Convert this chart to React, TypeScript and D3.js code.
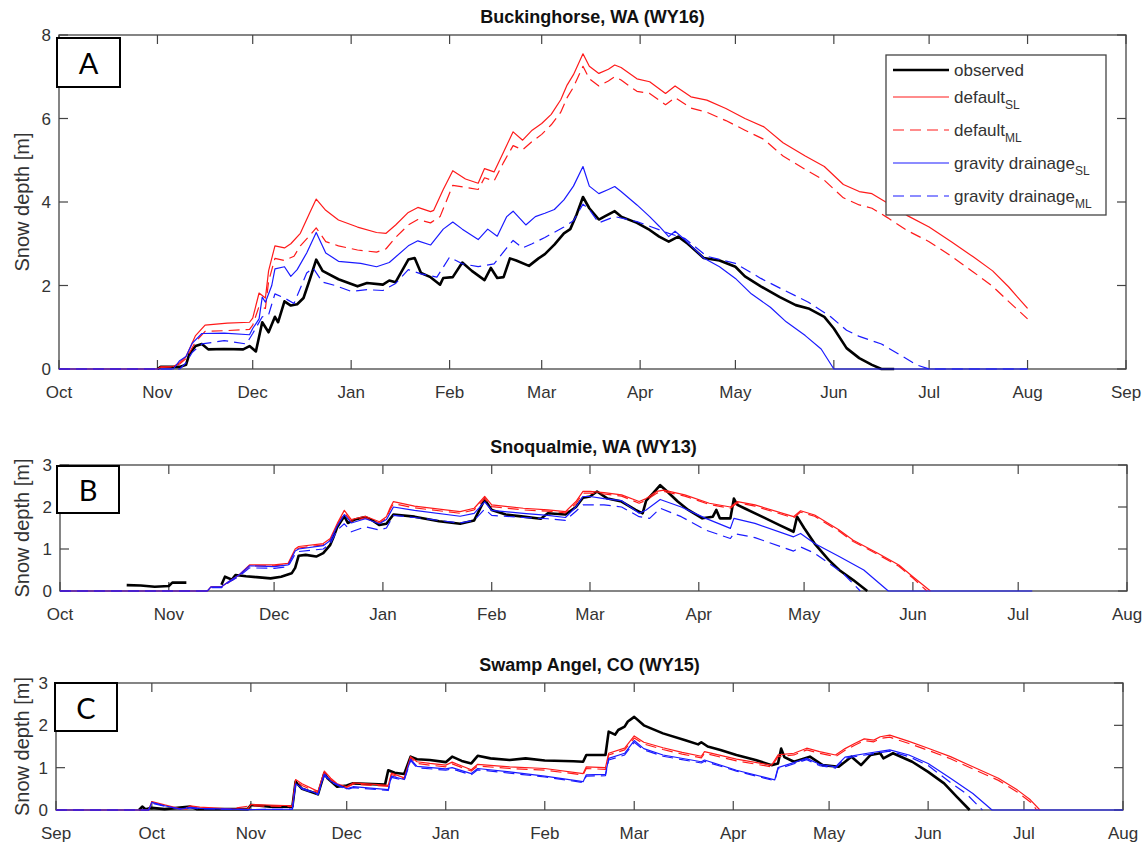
import React from 'react';
import * as d3 from 'd3';

type Pt = [string, number | null];

// ---- Panel A: Buckinghorse, WA (WY16) ----
const aObserved: Pt[] = [
  ['2015-11-01', 0], ['2015-11-02', 0.05], ['2015-11-08', 0.05], ['2015-11-10', 0.1], ['2015-11-11', 0.35],
  ['2015-11-13', 0.55], ['2015-11-15', 0.6], ['2015-11-17', 0.47], ['2015-11-22', 0.48], ['2015-11-28', 0.47],
  ['2015-11-30', 0.55], ['2015-12-02', 0.42], ['2015-12-04', 1.12], ['2015-12-06', 0.88], ['2015-12-08', 1.25],
  ['2015-12-09', 1.12], ['2015-12-11', 1.62], ['2015-12-13', 1.52], ['2015-12-15', 1.55], ['2015-12-17', 1.7],
  ['2015-12-19', 2.15], ['2015-12-21', 2.62], ['2015-12-23', 2.35], ['2015-12-28', 2.15], ['2016-01-03', 1.98],
  ['2016-01-06', 2.06], ['2016-01-11', 2.02], ['2016-01-13', 2.12], ['2016-01-15', 2.08], ['2016-01-17', 2.35],
  ['2016-01-19', 2.62], ['2016-01-21', 2.66], ['2016-01-23', 2.3], ['2016-01-26', 2.2], ['2016-01-29', 2.02],
  ['2016-01-30', 2.18], ['2016-02-02', 2.2], ['2016-02-05', 2.55], ['2016-02-08', 2.35], ['2016-02-12', 2.13],
  ['2016-02-14', 2.42], ['2016-02-16', 2.18], ['2016-02-18', 2.2], ['2016-02-20', 2.65], ['2016-02-22', 2.6],
  ['2016-02-26', 2.47], ['2016-02-29', 2.65], ['2016-03-02', 2.75], ['2016-03-05', 2.98], ['2016-03-08', 3.25],
  ['2016-03-10', 3.35], ['2016-03-12', 3.7], ['2016-03-14', 4.12], ['2016-03-16', 3.85], ['2016-03-19', 3.58],
  ['2016-03-21', 3.66], ['2016-03-24', 3.78], ['2016-03-26', 3.65], ['2016-03-31', 3.5], ['2016-04-04', 3.33],
  ['2016-04-07', 3.17], ['2016-04-10', 3.05], ['2016-04-13', 3.17], ['2016-04-16', 3.0], ['2016-04-21', 2.66],
  ['2016-04-26', 2.6], ['2016-05-01', 2.45], ['2016-05-04', 2.22], ['2016-05-09', 1.98], ['2016-05-15', 1.72],
  ['2016-05-20', 1.53], ['2016-05-24', 1.45], ['2016-05-29', 1.25], ['2016-06-01', 0.97], ['2016-06-05', 0.5],
  ['2016-06-09', 0.26], ['2016-06-13', 0.1], ['2016-06-16', 0], ['2016-06-20', 0],
];
const aDefaultSL: Pt[] = [
  ['2015-10-01', 0], ['2015-11-01', 0], ['2015-11-02', 0.05], ['2015-11-06', 0.06], ['2015-11-08', 0.15],
  ['2015-11-10', 0.3], ['2015-11-13', 0.8], ['2015-11-16', 1.05], ['2015-11-23', 1.1], ['2015-11-30', 1.12],
  ['2015-12-01', 1.22], ['2015-12-03', 1.82], ['2015-12-05', 1.7], ['2015-12-06', 2.35], ['2015-12-08', 2.95],
  ['2015-12-11', 2.9], ['2015-12-13', 3.0], ['2015-12-16', 3.25], ['2015-12-19', 3.75], ['2015-12-21', 4.07],
  ['2015-12-24', 3.8], ['2015-12-28', 3.57], ['2016-01-03', 3.4], ['2016-01-09', 3.27], ['2016-01-12', 3.25],
  ['2016-01-15', 3.45], ['2016-01-19', 3.75], ['2016-01-22', 3.87], ['2016-01-26', 3.77], ['2016-01-27', 3.8],
  ['2016-01-30', 4.3], ['2016-02-02', 4.75], ['2016-02-06', 4.55], ['2016-02-10', 4.45], ['2016-02-12', 4.8],
  ['2016-02-15', 4.72], ['2016-02-18', 5.2], ['2016-02-21', 5.68], ['2016-02-24', 5.48], ['2016-02-27', 5.72],
  ['2016-03-01', 5.88], ['2016-03-04', 6.1], ['2016-03-07', 6.45], ['2016-03-09', 6.8], ['2016-03-11', 7.05],
  ['2016-03-14', 7.55], ['2016-03-16', 7.25], ['2016-03-19', 7.08], ['2016-03-22', 7.18], ['2016-03-24', 7.28],
  ['2016-03-26', 7.22], ['2016-03-31', 6.95], ['2016-04-04', 6.88], ['2016-04-09', 6.6], ['2016-04-12', 6.78],
  ['2016-04-17', 6.52], ['2016-04-22', 6.44], ['2016-04-28', 6.24], ['2016-05-04', 6.0], ['2016-05-10', 5.8],
  ['2016-05-16', 5.42], ['2016-05-23', 5.1], ['2016-05-29', 4.85], ['2016-06-04', 4.42], ['2016-06-09', 4.25],
  ['2016-06-13', 4.2], ['2016-06-18', 3.97], ['2016-06-24', 3.68], ['2016-07-01', 3.4], ['2016-07-08', 3.05],
  ['2016-07-15', 2.68], ['2016-07-21', 2.35], ['2016-07-26', 1.97], ['2016-08-01', 1.45],
];
const aDefaultML: Pt[] = [
  ['2015-10-01', 0], ['2015-11-01', 0], ['2015-11-02', 0.04], ['2015-11-06', 0.05], ['2015-11-08', 0.12],
  ['2015-11-10', 0.25], ['2015-11-13', 0.65], ['2015-11-16', 0.9], ['2015-11-23', 0.92], ['2015-11-30', 0.95],
  ['2015-12-01', 1.05], ['2015-12-03', 1.5], ['2015-12-05', 1.45], ['2015-12-06', 2.1], ['2015-12-08', 2.65],
  ['2015-12-11', 2.6], ['2015-12-14', 2.7], ['2015-12-16', 2.95], ['2015-12-19', 3.2], ['2015-12-21', 3.38],
  ['2015-12-24', 3.05], ['2015-12-28', 2.95], ['2016-01-03', 2.85], ['2016-01-09', 2.8], ['2016-01-12', 2.88],
  ['2016-01-15', 3.15], ['2016-01-19', 3.45], ['2016-01-22', 3.58], ['2016-01-26', 3.5], ['2016-01-29', 3.65],
  ['2016-02-02', 4.4], ['2016-02-06', 4.35], ['2016-02-10', 4.3], ['2016-02-12', 4.58], ['2016-02-15', 4.5],
  ['2016-02-18', 4.95], ['2016-02-21', 5.35], ['2016-02-24', 5.25], ['2016-02-27', 5.45], ['2016-03-01', 5.62],
  ['2016-03-04', 5.85], ['2016-03-07', 6.15], ['2016-03-09', 6.5], ['2016-03-11', 6.75], ['2016-03-14', 7.25],
  ['2016-03-16', 6.95], ['2016-03-19', 6.78], ['2016-03-22', 6.9], ['2016-03-24', 7.0], ['2016-03-26', 6.92],
  ['2016-03-31', 6.65], ['2016-04-04', 6.6], ['2016-04-09', 6.33], ['2016-04-12', 6.5], ['2016-04-17', 6.25],
  ['2016-04-22', 6.15], ['2016-04-28', 5.95], ['2016-05-04', 5.72], ['2016-05-10', 5.5], ['2016-05-16', 5.1],
  ['2016-05-23', 4.78], ['2016-05-29', 4.52], ['2016-06-04', 4.1], ['2016-06-09', 3.93], ['2016-06-13', 3.85],
  ['2016-06-18', 3.62], ['2016-06-24', 3.32], ['2016-07-01', 3.05], ['2016-07-08', 2.7], ['2016-07-15', 2.32],
  ['2016-07-21', 1.98], ['2016-07-26', 1.62], ['2016-08-01', 1.2],
];
const aGravitySL: Pt[] = [
  ['2015-10-01', 0], ['2015-11-06', 0], ['2015-11-08', 0.2], ['2015-11-10', 0.3], ['2015-11-12', 0.62],
  ['2015-11-15', 0.85], ['2015-11-22', 0.86], ['2015-11-30', 0.82], ['2015-12-01', 0.97], ['2015-12-03', 1.2],
  ['2015-12-04', 1.72], ['2015-12-05', 1.6], ['2015-12-07', 2.0], ['2015-12-08', 2.4], ['2015-12-11', 2.45],
  ['2015-12-13', 2.22], ['2015-12-15', 2.38], ['2015-12-18', 2.78], ['2015-12-21', 3.27], ['2015-12-24', 2.78],
  ['2015-12-28', 2.58], ['2016-01-04', 2.53], ['2016-01-09', 2.45], ['2016-01-13', 2.55], ['2016-01-19', 2.95],
  ['2016-01-22', 3.07], ['2016-01-26', 2.97], ['2016-01-30', 3.35], ['2016-02-02', 3.52], ['2016-02-05', 3.35],
  ['2016-02-10', 3.1], ['2016-02-13', 3.35], ['2016-02-16', 3.18], ['2016-02-19', 3.65], ['2016-02-21', 3.78],
  ['2016-02-25', 3.45], ['2016-02-28', 3.65], ['2016-03-02', 3.73], ['2016-03-05', 3.82], ['2016-03-08', 4.05],
  ['2016-03-11', 4.38], ['2016-03-14', 4.85], ['2016-03-16', 4.38], ['2016-03-19', 4.2], ['2016-03-22', 4.3],
  ['2016-03-24', 4.37], ['2016-03-26', 4.25], ['2016-03-31', 3.93], ['2016-04-04', 3.65], ['2016-04-07', 3.42],
  ['2016-04-10', 3.17], ['2016-04-12', 3.3], ['2016-04-15', 3.1], ['2016-04-21', 2.66], ['2016-04-26', 2.45],
  ['2016-05-01', 2.17], ['2016-05-06', 1.8], ['2016-05-12', 1.48], ['2016-05-17', 1.13], ['2016-05-23', 0.8],
  ['2016-05-28', 0.48], ['2016-06-01', 0], ['2016-08-01', 0],
];
const aGravityML: Pt[] = [
  ['2015-10-01', 0], ['2015-11-08', 0], ['2015-11-10', 0.15], ['2015-11-12', 0.4], ['2015-11-15', 0.6],
  ['2015-11-22', 0.68], ['2015-11-29', 0.6], ['2015-12-01', 0.85], ['2015-12-04', 1.25], ['2015-12-06', 1.3],
  ['2015-12-08', 1.8], ['2015-12-11', 1.7], ['2015-12-14', 1.57], ['2015-12-18', 2.3], ['2015-12-20', 2.42],
  ['2015-12-23', 2.08], ['2015-12-27', 2.0], ['2016-01-01', 1.86], ['2016-01-06', 1.9], ['2016-01-11', 1.88],
  ['2016-01-15', 2.05], ['2016-01-19', 2.38], ['2016-01-23', 2.28], ['2016-01-28', 2.2], ['2016-02-01', 2.68],
  ['2016-02-05', 2.52], ['2016-02-10', 2.45], ['2016-02-15', 2.52], ['2016-02-19', 2.9], ['2016-02-21', 3.08],
  ['2016-02-24', 2.9], ['2016-02-27', 3.0], ['2016-03-02', 3.15], ['2016-03-08', 3.4], ['2016-03-11', 3.55],
  ['2016-03-14', 3.95], ['2016-03-16', 3.82], ['2016-03-19', 3.5], ['2016-03-24', 3.65], ['2016-03-31', 3.53],
  ['2016-04-04', 3.42], ['2016-04-10', 3.25], ['2016-04-15', 3.13], ['2016-04-22', 2.7], ['2016-05-01', 2.53],
  ['2016-05-09', 2.17], ['2016-05-16', 1.9], ['2016-05-24', 1.6], ['2016-05-31', 1.25], ['2016-06-05', 0.93],
  ['2016-06-09', 0.78], ['2016-06-16', 0.6], ['2016-06-22', 0.33], ['2016-06-27', 0.1], ['2016-07-01', 0],
  ['2016-08-01', 0],
];

// ---- Panel B: Snoqualmie, WA (WY13) ----
const bObserved: Pt[] = [
  ['2012-10-20', 0.14], ['2012-10-24', 0.13], ['2012-10-28', 0.1], ['2012-11-01', 0.12], ['2012-11-02', 0.2],
  ['2012-11-06', 0.2], ['2012-11-07', null], ['2012-11-16', 0.15], ['2012-11-17', 0.34], ['2012-11-19', 0.27],
  ['2012-11-20', 0.38], ['2012-11-23', 0.35], ['2012-11-26', 0.33], ['2012-11-30', 0.3], ['2012-12-03', 0.34],
  ['2012-12-06', 0.42], ['2012-12-07', 0.55], ['2012-12-08', 0.84], ['2012-12-10', 0.86], ['2012-12-13', 0.82],
  ['2012-12-15', 0.9], ['2012-12-17', 1.1], ['2012-12-18', 1.3], ['2012-12-19', 1.52], ['2012-12-21', 1.78],
  ['2012-12-22', 1.62], ['2012-12-24', 1.7], ['2012-12-27', 1.76], ['2012-12-29', 1.68], ['2012-12-31', 1.57],
  ['2013-01-02', 1.6], ['2013-01-04', 1.82], ['2013-01-10', 1.77], ['2013-01-17', 1.66], ['2013-01-23', 1.6],
  ['2013-01-27', 1.68], ['2013-01-30', 2.18], ['2013-02-01', 1.93], ['2013-02-05', 1.82], ['2013-02-10', 1.77],
  ['2013-02-15', 1.72], ['2013-02-17', 1.85], ['2013-02-22', 1.82], ['2013-02-25', 2.0], ['2013-02-27', 2.22],
  ['2013-03-01', 2.25], ['2013-03-03', 2.37], ['2013-03-06', 2.2], ['2013-03-10', 2.13], ['2013-03-14', 1.93],
  ['2013-03-16', 1.85], ['2013-03-17', 2.15], ['2013-03-19', 2.33], ['2013-03-21', 2.52], ['2013-03-23', 2.37],
  ['2013-03-26', 2.13], ['2013-03-29', 1.93], ['2013-04-02', 1.73], ['2013-04-05', 1.77], ['2013-04-06', 1.93],
  ['2013-04-07', 1.73], ['2013-04-10', 1.73], ['2013-04-11', 2.2], ['2013-04-12', 2.05], ['2013-04-14', 1.97],
  ['2013-04-19', 1.77], ['2013-04-24', 1.57], ['2013-04-28', 1.41], ['2013-04-29', 1.77], ['2013-05-01', 1.5],
  ['2013-05-04', 1.13], ['2013-05-08', 0.74], ['2013-05-11', 0.5], ['2013-05-15', 0.26], ['2013-05-19', 0],
];
const bDefaultSL: Pt[] = [
  ['2012-10-01', 0], ['2012-11-12', 0], ['2012-11-13', 0.1], ['2012-11-16', 0.1], ['2012-11-18', 0.22],
  ['2012-11-21', 0.38], ['2012-11-24', 0.62], ['2012-12-01', 0.62], ['2012-12-05', 0.66], ['2012-12-07', 1.0],
  ['2012-12-08', 1.06], ['2012-12-15', 1.13], ['2012-12-17', 1.25], ['2012-12-19', 1.61], ['2012-12-21', 1.92],
  ['2012-12-23', 1.7], ['2012-12-27', 1.78], ['2012-12-31', 1.65], ['2013-01-02', 1.77], ['2013-01-03', 1.97],
  ['2013-01-04', 2.13], ['2013-01-10', 2.02], ['2013-01-23', 1.89], ['2013-01-27', 1.97], ['2013-01-30', 2.25],
  ['2013-02-01', 2.05], ['2013-02-10', 1.97], ['2013-02-17', 1.93], ['2013-02-22', 1.89], ['2013-02-25', 2.13],
  ['2013-02-27', 2.37], ['2013-03-01', 2.37], ['2013-03-05', 2.34], ['2013-03-10', 2.29], ['2013-03-15', 2.13],
  ['2013-03-17', 2.2], ['2013-03-20', 2.37], ['2013-03-22', 2.4], ['2013-03-28', 2.29], ['2013-04-04', 2.09],
  ['2013-04-10', 2.0], ['2013-04-12', 2.13], ['2013-04-17', 2.05], ['2013-04-28', 1.77], ['2013-04-30', 1.91],
  ['2013-05-04', 1.81], ['2013-05-11', 1.45], ['2013-05-15', 1.21], ['2013-05-22', 0.9], ['2013-05-28', 0.62],
  ['2013-06-01', 0.34], ['2013-06-06', 0],
];
const bDefaultML: Pt[] = [
  ['2012-10-01', 0], ['2012-11-12', 0], ['2012-11-13', 0.09], ['2012-11-16', 0.09], ['2012-11-18', 0.2],
  ['2012-11-21', 0.36], ['2012-11-24', 0.6], ['2012-12-01', 0.6], ['2012-12-05', 0.63], ['2012-12-07', 0.96],
  ['2012-12-08', 1.02], ['2012-12-15', 1.1], ['2012-12-17', 1.22], ['2012-12-19', 1.57], ['2012-12-21', 1.86],
  ['2012-12-23', 1.66], ['2012-12-27', 1.74], ['2012-12-31', 1.62], ['2013-01-02', 1.73], ['2013-01-03', 1.93],
  ['2013-01-04', 2.08], ['2013-01-10', 1.98], ['2013-01-23', 1.85], ['2013-01-27', 1.93], ['2013-01-30', 2.2],
  ['2013-02-01', 2.01], ['2013-02-10', 1.93], ['2013-02-17', 1.9], ['2013-02-22', 1.86], ['2013-02-25', 2.08],
  ['2013-02-27', 2.33], ['2013-03-01', 2.33], ['2013-03-05', 2.31], ['2013-03-10', 2.26], ['2013-03-15', 2.09],
  ['2013-03-17', 2.16], ['2013-03-20', 2.33], ['2013-03-22', 2.37], ['2013-03-28', 2.26], ['2013-04-04', 2.06],
  ['2013-04-10', 1.97], ['2013-04-12', 2.1], ['2013-04-17', 2.02], ['2013-04-28', 1.74], ['2013-04-30', 1.88],
  ['2013-05-04', 1.78], ['2013-05-11', 1.42], ['2013-05-15', 1.18], ['2013-05-22', 0.87], ['2013-05-28', 0.59],
  ['2013-06-01', 0.31], ['2013-06-05', 0],
];
const bGravitySL: Pt[] = [
  ['2012-10-01', 0], ['2012-11-12', 0], ['2012-11-13', 0.1], ['2012-11-16', 0.1], ['2012-11-18', 0.22],
  ['2012-11-21', 0.38], ['2012-11-24', 0.6], ['2012-12-01', 0.58], ['2012-12-05', 0.62], ['2012-12-07', 0.95],
  ['2012-12-08', 1.0], ['2012-12-15', 1.08], ['2012-12-17', 1.2], ['2012-12-19', 1.55], ['2012-12-21', 1.82],
  ['2012-12-23', 1.62], ['2012-12-27', 1.72], ['2012-12-31', 1.6], ['2013-01-02', 1.7], ['2013-01-04', 2.0],
  ['2013-01-10', 1.92], ['2013-01-23', 1.78], ['2013-01-27', 1.85], ['2013-01-30', 2.12], ['2013-02-01', 1.92],
  ['2013-02-10', 1.85], ['2013-02-17', 1.8], ['2013-02-22', 1.75], ['2013-02-25', 2.0], ['2013-02-27', 2.25],
  ['2013-03-01', 2.25], ['2013-03-05', 2.2], ['2013-03-10', 2.15], ['2013-03-15', 1.85], ['2013-03-17', 1.93],
  ['2013-03-21', 2.18], ['2013-03-27', 2.0], ['2013-04-03', 1.73], ['2013-04-10', 1.49], ['2013-04-11', 1.73],
  ['2013-04-17', 1.61], ['2013-04-28', 1.29], ['2013-04-30', 1.37], ['2013-05-04', 1.13], ['2013-05-11', 0.82],
  ['2013-05-18', 0.5], ['2013-05-25', 0], ['2013-07-05', 0],
];
const bGravityML: Pt[] = [
  ['2012-10-01', 0], ['2012-11-12', 0], ['2012-11-13', 0.08], ['2012-11-16', 0.08], ['2012-11-18', 0.2],
  ['2012-11-21', 0.35], ['2012-11-24', 0.55], ['2012-12-01', 0.54], ['2012-12-05', 0.58], ['2012-12-07', 0.88],
  ['2012-12-08', 0.94], ['2012-12-15', 1.0], ['2012-12-17', 1.13], ['2012-12-19', 1.45], ['2012-12-21', 1.6],
  ['2012-12-23', 1.41], ['2012-12-27', 1.53], ['2012-12-31', 1.45], ['2013-01-02', 1.5], ['2013-01-04', 1.8],
  ['2013-01-10', 1.75], ['2013-01-23', 1.62], ['2013-01-27', 1.68], ['2013-01-30', 1.95], ['2013-02-01', 1.8],
  ['2013-02-10', 1.75], ['2013-02-17', 1.72], ['2013-02-22', 1.68], ['2013-02-25', 1.9], ['2013-02-27', 2.05],
  ['2013-03-01', 2.05], ['2013-03-05', 2.05], ['2013-03-10', 2.0], ['2013-03-15', 1.77], ['2013-03-18', 1.73],
  ['2013-03-21', 1.97], ['2013-03-27', 1.77], ['2013-04-03', 1.45], ['2013-04-10', 1.25], ['2013-04-11', 1.37],
  ['2013-04-17', 1.27], ['2013-04-28', 0.95], ['2013-04-30', 1.05], ['2013-05-04', 0.9], ['2013-05-12', 0.43],
  ['2013-05-17', 0],
];

// ---- Panel C: Swamp Angel, CO (WY15) ----
const cObserved: Pt[] = [
  ['2014-09-27', 0], ['2014-09-28', 0.08], ['2014-09-29', 0.02], ['2014-10-01', 0.05], ['2014-10-05', 0.02],
  ['2014-10-13', 0.08], ['2014-10-15', 0.02], ['2014-10-31', 0.02], ['2014-11-01', 0.12], ['2014-11-07', 0.08],
  ['2014-11-14', 0.08], ['2014-11-15', 0.67], ['2014-11-17', 0.5], ['2014-11-22', 0.37], ['2014-11-24', 0.87],
  ['2014-11-25', 0.75], ['2014-11-28', 0.55], ['2014-12-01', 0.58], ['2014-12-03', 0.63], ['2014-12-13', 0.6],
  ['2014-12-14', 0.94], ['2014-12-16', 0.88], ['2014-12-19', 0.85], ['2014-12-21', 1.26], ['2014-12-23', 1.2],
  ['2014-12-27', 1.18], ['2015-01-01', 1.13], ['2015-01-03', 1.26], ['2015-01-06', 1.16], ['2015-01-09', 1.1],
  ['2015-01-11', 1.28], ['2015-01-15', 1.22], ['2015-01-21', 1.18], ['2015-01-26', 1.22], ['2015-02-01', 1.17],
  ['2015-02-10', 1.15], ['2015-02-13', 1.14], ['2015-02-14', 1.3], ['2015-02-20', 1.3], ['2015-02-21', 1.85],
  ['2015-02-23', 1.78], ['2015-02-24', 1.89], ['2015-02-26', 1.97], ['2015-02-27', 2.09], ['2015-03-01', 2.2],
  ['2015-03-04', 2.0], ['2015-03-10', 1.81], ['2015-03-17', 1.65], ['2015-03-21', 1.55], ['2015-03-22', 1.6],
  ['2015-03-24', 1.5], ['2015-03-28', 1.42], ['2015-04-02', 1.3], ['2015-04-08', 1.18], ['2015-04-13', 1.06],
  ['2015-04-15', 1.1], ['2015-04-16', 1.45], ['2015-04-17', 1.25], ['2015-04-20', 1.14], ['2015-04-25', 1.26],
  ['2015-04-29', 1.06], ['2015-05-04', 1.02], ['2015-05-08', 1.26], ['2015-05-11', 1.06], ['2015-05-14', 1.3],
  ['2015-05-17', 1.34], ['2015-05-18', 1.22], ['2015-05-21', 1.34], ['2015-05-27', 1.14], ['2015-06-01', 0.9],
  ['2015-06-06', 0.63], ['2015-06-10', 0.31], ['2015-06-14', 0],
];
const cDefaultSL: Pt[] = [
  ['2014-09-01', 0], ['2014-09-30', 0], ['2014-10-01', 0.2], ['2014-10-05', 0.12], ['2014-10-10', 0.03],
  ['2014-10-12', 0.02], ['2014-10-13', 0.1], ['2014-10-16', 0.07], ['2014-10-25', 0.03], ['2014-10-31', 0.02],
  ['2014-11-01', 0.13], ['2014-11-14', 0.1], ['2014-11-15', 0.72], ['2014-11-17', 0.62], ['2014-11-22', 0.44],
  ['2014-11-24', 0.92], ['2014-11-26', 0.75], ['2014-11-28', 0.62], ['2014-12-01', 0.55], ['2014-12-03', 0.64],
  ['2014-12-14', 0.58], ['2014-12-15', 0.87], ['2014-12-19', 0.76], ['2014-12-21', 1.26], ['2014-12-23', 1.14],
  ['2014-12-27', 1.1], ['2015-01-01', 1.06], ['2015-01-03', 1.13], ['2015-01-09', 0.95], ['2015-01-11', 1.08],
  ['2015-01-21', 1.02], ['2015-02-01', 0.98], ['2015-02-13', 0.86], ['2015-02-14', 1.02], ['2015-02-20', 1.0],
  ['2015-02-21', 1.34], ['2015-02-26', 1.46], ['2015-03-01', 1.75], ['2015-03-04', 1.6], ['2015-03-10', 1.47],
  ['2015-03-16', 1.36], ['2015-03-22', 1.27], ['2015-03-23', 1.38], ['2015-04-02', 1.2], ['2015-04-13', 1.06],
  ['2015-04-15', 1.3], ['2015-04-20', 1.34], ['2015-04-24', 1.46], ['2015-04-28', 1.38], ['2015-05-03', 1.3],
  ['2015-05-06', 1.45], ['2015-05-09', 1.57], ['2015-05-12', 1.68], ['2015-05-15', 1.65], ['2015-05-17', 1.73],
  ['2015-05-20', 1.77], ['2015-05-26', 1.62], ['2015-06-01', 1.46], ['2015-06-08', 1.26], ['2015-06-15', 1.02],
  ['2015-06-23', 0.75], ['2015-06-29', 0.47], ['2015-07-03', 0.24], ['2015-07-06', 0],
];
const cDefaultML: Pt[] = [
  ['2014-09-01', 0], ['2014-09-30', 0], ['2014-10-01', 0.18], ['2014-10-05', 0.1], ['2014-10-10', 0.02],
  ['2014-10-13', 0.08], ['2014-10-16', 0.05], ['2014-10-25', 0.02], ['2014-11-01', 0.1], ['2014-11-14', 0.08],
  ['2014-11-15', 0.68], ['2014-11-17', 0.58], ['2014-11-22', 0.41], ['2014-11-24', 0.88], ['2014-11-26', 0.72],
  ['2014-11-28', 0.6], ['2014-12-01', 0.53], ['2014-12-03', 0.61], ['2014-12-14', 0.56], ['2014-12-15', 0.84],
  ['2014-12-19', 0.73], ['2014-12-21', 1.22], ['2014-12-23', 1.1], ['2014-12-27', 1.06], ['2015-01-01', 1.02],
  ['2015-01-03', 1.09], ['2015-01-09', 0.92], ['2015-01-11', 1.04], ['2015-01-21', 0.98], ['2015-02-01', 0.94],
  ['2015-02-13', 0.83], ['2015-02-14', 0.98], ['2015-02-20', 0.96], ['2015-02-21', 1.3], ['2015-02-26', 1.42],
  ['2015-03-01', 1.7], ['2015-03-04', 1.56], ['2015-03-10', 1.43], ['2015-03-16', 1.32], ['2015-03-22', 1.23],
  ['2015-03-23', 1.34], ['2015-04-02', 1.16], ['2015-04-13', 1.02], ['2015-04-15', 1.26], ['2015-04-20', 1.3],
  ['2015-04-24', 1.42], ['2015-04-28', 1.34], ['2015-05-03', 1.26], ['2015-05-06', 1.41], ['2015-05-09', 1.53],
  ['2015-05-12', 1.64], ['2015-05-15', 1.61], ['2015-05-17', 1.69], ['2015-05-20', 1.72], ['2015-05-26', 1.57],
  ['2015-06-01', 1.41], ['2015-06-08', 1.21], ['2015-06-15', 0.97], ['2015-06-23', 0.7], ['2015-06-29', 0.42],
  ['2015-07-03', 0.19], ['2015-07-05', 0],
];
const cGravitySL: Pt[] = [
  ['2014-09-01', 0], ['2014-09-30', 0], ['2014-10-01', 0.18], ['2014-10-05', 0.1], ['2014-10-10', 0.02],
  ['2014-10-13', 0.06], ['2014-10-16', 0.04], ['2014-10-31', 0.01], ['2014-11-14', 0.02], ['2014-11-15', 0.62],
  ['2014-11-17', 0.52], ['2014-11-22', 0.38], ['2014-11-24', 0.85], ['2014-11-26', 0.68], ['2014-12-01', 0.5],
  ['2014-12-03', 0.55], ['2014-12-14', 0.48], ['2014-12-15', 0.8], ['2014-12-19', 0.72], ['2014-12-21', 1.2],
  ['2014-12-23', 1.03], ['2015-01-01', 0.97], ['2015-01-03', 1.0], ['2015-01-09', 0.86], ['2015-01-11', 0.98],
  ['2015-01-21', 0.9], ['2015-02-01', 0.8], ['2015-02-13', 0.67], ['2015-02-14', 0.83], ['2015-02-20', 0.84],
  ['2015-02-21', 1.22], ['2015-02-26', 1.34], ['2015-03-01', 1.64], ['2015-03-04', 1.45], ['2015-03-10', 1.3],
  ['2015-03-22', 1.14], ['2015-03-23', 1.18], ['2015-04-02', 0.94], ['2015-04-14', 0.71], ['2015-04-15', 1.0],
  ['2015-04-24', 1.22], ['2015-04-28', 1.08], ['2015-05-03', 1.02], ['2015-05-06', 1.25], ['2015-05-13', 1.34],
  ['2015-05-20', 1.42], ['2015-05-26', 1.3], ['2015-06-01', 1.1], ['2015-06-08', 0.75], ['2015-06-15', 0.39],
  ['2015-06-21', 0], ['2015-08-01', 0],
];
const cGravityML: Pt[] = [
  ['2014-09-01', 0], ['2014-09-30', 0], ['2014-10-01', 0.16], ['2014-10-05', 0.09], ['2014-10-10', 0.02],
  ['2014-10-13', 0.05], ['2014-10-16', 0.03], ['2014-10-31', 0.01], ['2014-11-14', 0.02], ['2014-11-15', 0.6],
  ['2014-11-17', 0.5], ['2014-11-22', 0.36], ['2014-11-24', 0.82], ['2014-11-26', 0.66], ['2014-12-01', 0.48],
  ['2014-12-03', 0.53], ['2014-12-14', 0.46], ['2014-12-15', 0.77], ['2014-12-19', 0.7], ['2014-12-21', 1.17],
  ['2014-12-23', 1.0], ['2015-01-01', 0.94], ['2015-01-03', 0.97], ['2015-01-09', 0.83], ['2015-01-11', 0.95],
  ['2015-01-21', 0.87], ['2015-02-01', 0.78], ['2015-02-13', 0.65], ['2015-02-14', 0.8], ['2015-02-20', 0.81],
  ['2015-02-21', 1.18], ['2015-02-26', 1.3], ['2015-03-01', 1.6], ['2015-03-04', 1.42], ['2015-03-10', 1.27],
  ['2015-03-22', 1.11], ['2015-03-23', 1.15], ['2015-04-02', 0.92], ['2015-04-14', 0.69], ['2015-04-15', 0.97],
  ['2015-04-24', 1.19], ['2015-04-28', 1.05], ['2015-05-03', 0.99], ['2015-05-06', 1.22], ['2015-05-13', 1.31],
  ['2015-05-20', 1.39], ['2015-05-26', 1.26], ['2015-06-01', 1.05], ['2015-06-08', 0.65], ['2015-06-13', 0.38],
  ['2015-06-18', 0],
];

const aYTicks = [0, 2, 4, 6, 8];
const bcYTicks = [0, 1, 2, 3];
const legendLabels: [string, string][] = [
  ['observed', ''], ['default', 'SL'], ['default', 'ML'], ['gravity drainage', 'SL'], ['gravity drainage', 'ML'],
];

const parse = d3.timeParse('%Y-%m-%d');
const AXIS = '#444';
const TEXT = '#333';
const FONT = '"Liberation Sans", Arial, sans-serif';

const styles = [
  { color: '#000', width: 2.6, dash: undefined },
  { color: '#ff1a1a', width: 1.2, dash: undefined },
  { color: '#ff1a1a', width: 1.2, dash: '11,6' },
  { color: '#1a1aff', width: 1.2, dash: undefined },
  { color: '#1a1aff', width: 1.2, dash: '11,6' },
];

interface PanelProps {
  id: string;
  left: number; right: number; top: number; bottom: number;
  start: string; end: string;
  yMax: number; yTicks: number[];
  title: string; letter: string;
  letterBox: [number, number, number, number];
  series: Pt[][];
  legend?: boolean;
}

const Panel: React.FC<PanelProps> = (p) => {
  const x = d3.scaleTime().domain([parse(p.start)!, parse(p.end)!]).range([p.left, p.right]);
  const y = d3.scaleLinear().domain([0, p.yMax]).range([p.bottom, p.top]);
  const line = d3.line<Pt>()
    .defined(d => d[1] !== null)
    .x(d => x(parse(d[0])!))
    .y(d => y(d[1] as number));
  const months = d3.timeMonth.range(parse(p.start)!, d3.timeDay.offset(parse(p.end)!, 1));
  const fmt = d3.timeFormat('%b');
  const tl = 9;
  const [bx, by, bw, bh] = p.letterBox;

  return (
    <g>
      <defs>
        <clipPath id={`clip-${p.id}`}>
          <rect x={p.left} y={p.top - 2} width={p.right - p.left} height={p.bottom - p.top + 4} />
        </clipPath>
      </defs>
      <text x={(p.left + p.right) / 2} y={p.top - 12} textAnchor="middle" fontFamily={FONT}
        fontWeight="bold" fontSize={18} fill="#111">{p.title}</text>
      {/* axes box and ticks */}
      <rect x={p.left} y={p.top} width={p.right - p.left} height={p.bottom - p.top}
        fill="none" stroke={AXIS} strokeWidth={1.3} />
      {months.map((m, i) => (
        <g key={i}>
          <line x1={x(m)} x2={x(m)} y1={p.bottom} y2={p.bottom - tl} stroke={AXIS} strokeWidth={1.2} />
          <line x1={x(m)} x2={x(m)} y1={p.top} y2={p.top + tl} stroke={AXIS} strokeWidth={1.2} />
          <text x={x(m)} y={p.bottom + 29} textAnchor="middle" fontFamily={FONT} fontSize={17} fill={TEXT}>{fmt(m)}</text>
        </g>
      ))}
      {p.yTicks.map((t, i) => (
        <g key={i}>
          <line x1={p.left} x2={p.left + tl} y1={y(t)} y2={y(t)} stroke={AXIS} strokeWidth={1.2} />
          <line x1={p.right} x2={p.right - tl} y1={y(t)} y2={y(t)} stroke={AXIS} strokeWidth={1.2} />
          <text x={p.left - 8} y={y(t) + 6} textAnchor="end" fontFamily={FONT} fontSize={17} fill={TEXT}>{t}</text>
        </g>
      ))}
      <text transform={`translate(22,${(p.top + p.bottom) / 2}) rotate(-90)`} textAnchor="middle"
        dominantBaseline="central" fontFamily={FONT} fontSize={20} fill={TEXT}>Snow depth [m]</text>
      {/* series */}
      <g clipPath={`url(#clip-${p.id})`}>
        {p.series.map((s, i) => (
          <path key={i} d={line(s) || ''} fill="none" stroke={styles[i].color}
            strokeWidth={styles[i].width} strokeDasharray={styles[i].dash}
            strokeLinejoin="round" />
        ))}
      </g>
      <rect x={bx} y={by} width={bw} height={bh} fill="#fff" stroke="#000" strokeWidth={2} />
      <text x={bx + bw / 2} y={by + bh / 2} textAnchor="middle" dominantBaseline="central"
        fontFamily="Lato, 'Open Sans', sans-serif" fontSize={29} fill="#000">{p.letter}</text>
      {p.legend && (
        <g>
          <rect x={886} y={55} width={220} height={160} fill="#fff" stroke={AXIS} strokeWidth={1.3} />
          {legendLabels.map(([main, sub], i) => {
            const ry = [70, 97, 130, 163, 196][i];
            return (
              <g key={i}>
                <line x1={893} x2={949} y1={ry} y2={ry} stroke={styles[i].color}
                  strokeWidth={styles[i].width} strokeDasharray={styles[i].dash} />
                <text x={954} y={ry + 6} fontFamily={FONT} fontSize={17} fill={TEXT}>
                  {main}
                  {sub && <tspan dy={6} fontSize={12}>{sub}</tspan>}
                </text>
              </g>
            );
          })}
        </g>
      )}
    </g>
  );
};

export default function App() {
  return (
    <svg width={1146} height={843} style={{ position: 'absolute', left: 0, top: 0, background: '#fff' }}>
      <rect width={1146} height={843} fill="#fff" />
      <Panel id="a" left={59} right={1126} top={35} bottom={369} start="2015-10-01" end="2016-09-01"
        yMax={8} yTicks={aYTicks} title="Buckinghorse, WA (WY16)" letter="A" letterBox={[57, 38, 63, 49]}
        series={[aObserved, aDefaultSL, aDefaultML, aGravitySL, aGravityML]} legend />
      <Panel id="b" left={60} right={1127} top={465} bottom={591} start="2012-10-01" end="2013-08-01"
        yMax={3} yTicks={bcYTicks} title="Snoqualmie, WA (WY13)" letter="B" letterBox={[57, 466, 62, 47]}
        series={[bObserved, bDefaultSL, bDefaultML, bGravitySL, bGravityML]} />
      <Panel id="c" left={56} right={1123} top={683} bottom={810} start="2014-09-01" end="2015-08-01"
        yMax={3} yTicks={bcYTicks} title="Swamp Angel, CO (WY15)" letter="C" letterBox={[55, 683, 62, 48]}
        series={[cObserved, cDefaultSL, cDefaultML, cGravitySL, cGravityML]} />
    </svg>
  );
}
